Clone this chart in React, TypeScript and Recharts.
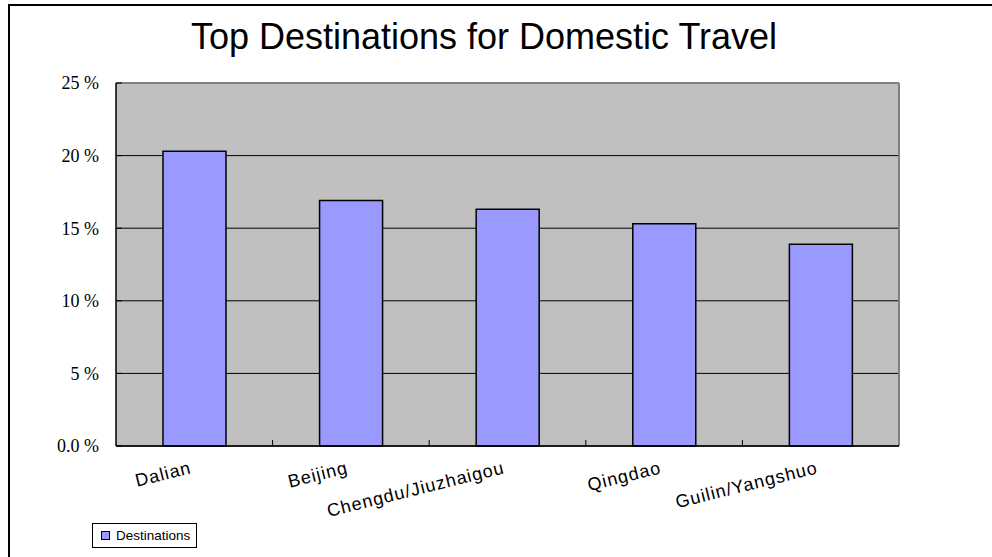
import { Bar, BarChart, CartesianGrid, XAxis, YAxis } from "recharts";

const CATEGORIES = ["Dalian", "Beijing", "Chengdu/Jiuzhaigou", "Qingdao", "Guilin/Yangshuo"];
const SHARES = [20.3, 16.9, 16.3, 15.3, 13.9];
const Y_TICKS = [0, 5, 10, 15, 20, 25];
const TITLE = "Top Destinations for Domestic Travel";
const SERIES_NAME = "Destinations";

const data = CATEGORIES.map((name, i) => ({ name, share: SHARES[i] }));

const formatPercent = (v: number) => (v === 0 ? "0.0 %" : `${v} %`);

function YTick(props: any) {
  const { x, y, payload } = props;
  return (
    <g>
      <line x1={x + 17} x2={x + 23} y1={y} y2={y} stroke="#000" strokeWidth={1} />
      <text
        x={x}
        y={y}
        dy="0.36em"
        textAnchor="end"
        fontFamily="'Liberation Serif', 'Times New Roman', serif"
        fontSize={18}
        fill="#000"
      >
        {formatPercent(payload.value)}
      </text>
    </g>
  );
}

function XTick(props: any) {
  const { x, y, payload, index, width } = props;
  const band = width ? width / CATEGORIES.length : 0;
  const isLast = index === CATEGORIES.length - 1;
  return (
    <g>
      {band > 0 && !isLast && (
        <line x1={x + band / 2} x2={x + band / 2} y1={y} y2={y - 6} stroke="#000" strokeWidth={1} />
      )}
      <text
        x={x - 2}
        y={y + 27}
        textAnchor="end"
        transform={`rotate(-14, ${x - 2}, ${y + 27})`}
        fontFamily="'Liberation Sans', Arial, sans-serif"
        fontSize={18}
        letterSpacing={1}
        fill="#000"
      >
        {payload.value}
      </text>
    </g>
  );
}

export default function App() {
  return (
    <div
      style={{
        position: "absolute",
        left: 0,
        top: 0,
        width: 992,
        height: 557,
        background: "#fff",
        overflow: "hidden",
      }}
    >
      {/* outer frame: only top and left edges are inside the picture */}
      <div style={{ position: "absolute", left: 8, top: 4, width: 984, height: 2, background: "#000" }} />
      <div style={{ position: "absolute", left: 8, top: 4, width: 2, height: 553, background: "#000" }} />
      <div
        style={{
          position: "absolute",
          left: 0,
          top: 19,
          width: 968,
          textAlign: "center",
          fontFamily: "'Liberation Sans', Arial, sans-serif",
          fontSize: 36,
          lineHeight: "36px",
          color: "#000",
          whiteSpace: "nowrap",
        }}
      >
        {TITLE}
      </div>
      <div style={{ position: "absolute", left: 0, top: 0 }}>
        <BarChart
          width={992}
          height={557}
          data={data}
          margin={{ top: 83, right: 93, bottom: 81, left: 0 }}
          barCategoryGap="30%"
        >
          <CartesianGrid fill="#c0c0c0" stroke="#000" vertical={false} />
          <CartesianGrid
            stroke="#808080"
            strokeWidth={2}
            horizontalCoordinatesGenerator={({ offset }: any) => [offset.top]}
            verticalCoordinatesGenerator={({ offset }: any) => [offset.left + offset.width]}
          />
          <XAxis
            dataKey="name"
            height={30}
            tickSize={0}
            tickMargin={0}
            tickLine={false}
            axisLine={{ stroke: "#000", strokeWidth: 1.5 }}
            tick={(p: any) => <XTick {...p} />}
            interval={0}
          />
          <YAxis
            domain={[0, 25]}
            ticks={Y_TICKS}
            width={116}
            tickSize={0}
            tickMargin={17}
            tickLine={false}
            axisLine={{ stroke: "#000", strokeWidth: 1.5 }}
            tick={(p: any) => <YTick {...p} />}
            interval={0}
          />
          <Bar dataKey="share" name={SERIES_NAME} fill="#9999ff" stroke="#000" strokeWidth={1.5} isAnimationActive={false} />
        </BarChart>
      </div>
      <div
        style={{
          position: "absolute",
          left: 92,
          top: 523,
          width: 105,
          height: 25,
          border: "1px solid #000",
          boxSizing: "border-box",
          display: "flex",
          alignItems: "center",
          fontFamily: "'Liberation Sans', Arial, sans-serif",
          fontSize: 13.5,
          color: "#000",
          background: "#fff",
        }}
      >
        <span
          style={{
            display: "inline-block",
            width: 7,
            height: 7,
            marginLeft: 8,
            marginRight: 6,
            background: "#9999ff",
            border: "1px solid #000",
          }}
        />
        {SERIES_NAME}
      </div>
    </div>
  );
}
